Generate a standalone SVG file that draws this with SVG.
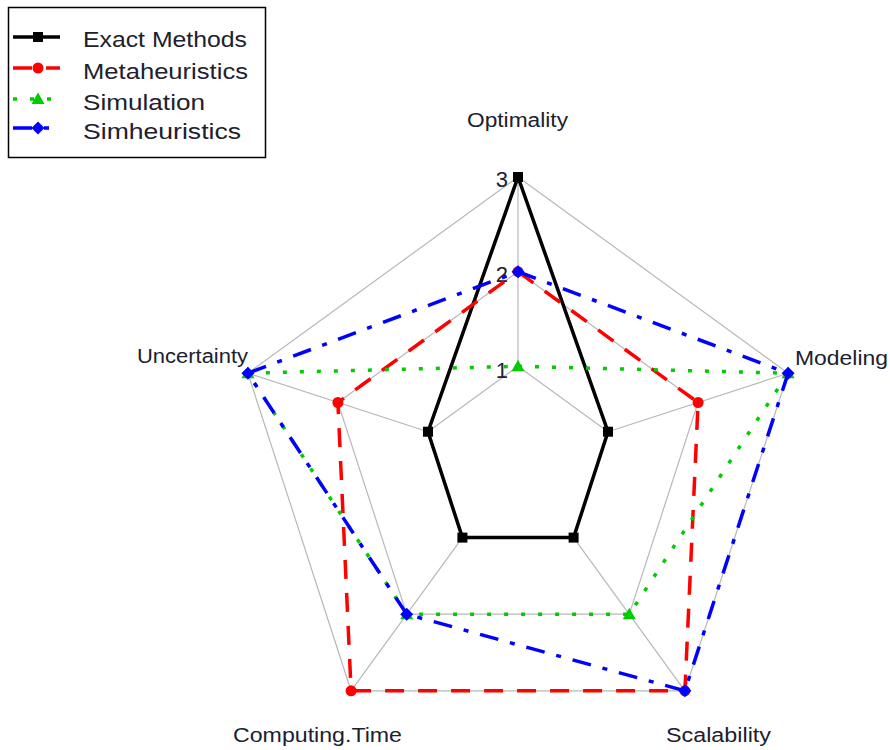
<svg xmlns="http://www.w3.org/2000/svg" width="890" height="750" viewBox="0 0 890 750">
  <defs>
    <style>
      .grid { fill: none; stroke: #b8b8b8; stroke-width: 1.2; }
      .lab { font-family: "Liberation Sans", Arial, sans-serif; fill: #20202e; }
      .axis { font-size: 20px; }
      .tick { font-size: 22px; text-anchor: end; }
      .leg { font-size: 22px; }
      .s { fill: none; stroke-width: 3.5; stroke-linejoin: miter; }
      .exact { stroke: #000000; }
      .meta { stroke: #ff0000; stroke-dasharray: 19 14; }
      .sim { stroke: #00cc00; stroke-dasharray: 4 13; }
      .simh { stroke: #0000ff; stroke-dasharray: 19 12 5 12; }
    </style>
    <rect id="sq" x="-5" y="-5" width="10" height="10" fill="#000000"/>
    <circle id="ci" r="5.5" fill="#ff0000"/>
    <polygon id="tr" points="0,-6.5 6.5,5 -6.5,5" fill="#00cc00"/>
    <polygon id="di" points="0,-6.5 6.5,0 0,6.5 -6.5,0" fill="#0000ff"/>
  </defs>
  <rect width="890" height="750" fill="#ffffff"/>

  <!-- radar grid: three level pentagons and the five spokes -->
  <g id="grid">
    <polygon class="grid" points="518,366.3 608.0,431.7 573.6,537.6 462.4,537.6 428.0,431.7"/>
    <polygon class="grid" points="518,271.7 698.1,402.5 629.3,614.2 406.7,614.2 337.9,402.5"/>
    <polygon class="grid" points="518,177 788.1,373.2 684.9,690.8 351.1,690.8 247.9,373.2"/>
    <line class="grid" x1="518" y1="366.3" x2="518" y2="177"/>
    <line class="grid" x1="608.0" y1="431.7" x2="788.1" y2="373.2"/>
    <line class="grid" x1="573.6" y1="537.6" x2="684.9" y2="690.8"/>
    <line class="grid" x1="462.4" y1="537.6" x2="351.1" y2="690.8"/>
    <line class="grid" x1="428.0" y1="431.7" x2="247.9" y2="373.2"/>
  </g>

  <!-- tick values on the top spoke -->
  <g id="ticks" class="lab tick">
    <text x="508" y="187">3</text>
    <text x="508" y="282">2</text>
    <text x="508" y="378">1</text>
  </g>

  <!-- axis names -->
  <g id="axis-labels" class="lab axis">
    <text x="467" y="127" textLength="101" lengthAdjust="spacingAndGlyphs">Optimality</text>
    <text x="795" y="365" textLength="93" lengthAdjust="spacingAndGlyphs">Modeling</text>
    <text x="137" y="363" textLength="111" lengthAdjust="spacingAndGlyphs">Uncertainty</text>
    <text x="233" y="742" textLength="169" lengthAdjust="spacingAndGlyphs">Computing.Time</text>
    <text x="666" y="742" textLength="105" lengthAdjust="spacingAndGlyphs">Scalability</text>
  </g>

  <!-- data series -->
  <g id="connectors">
    <g id="series-exact">
      <polygon class="s exact" points="518,177 608.0,431.7 573.6,537.6 462.4,537.6 428.0,431.7"/>
      <use href="#sq" x="518" y="177"/>
      <use href="#sq" x="608.0" y="431.7"/>
      <use href="#sq" x="573.6" y="537.6"/>
      <use href="#sq" x="462.4" y="537.6"/>
      <use href="#sq" x="428.0" y="431.7"/>
    </g>
    <g id="series-meta">
      <polygon class="s meta" points="518,271.7 698.1,402.5 684.9,690.8 351.1,690.8 337.9,402.5"/>
      <use href="#ci" x="518" y="271.7"/>
      <use href="#ci" x="698.1" y="402.5"/>
      <use href="#ci" x="684.9" y="690.8"/>
      <use href="#ci" x="351.1" y="690.8"/>
      <use href="#ci" x="337.9" y="402.5"/>
    </g>
    <g id="series-sim">
      <polygon class="s sim" points="518,366.3 788.1,373.2 629.3,614.2 406.7,614.2 247.9,373.2"/>
      <use href="#tr" x="518" y="366.3"/>
      <use href="#tr" x="788.1" y="373.2"/>
      <use href="#tr" x="629.3" y="614.2"/>
      <use href="#tr" x="406.7" y="614.2"/>
      <use href="#tr" x="247.9" y="373.2"/>
    </g>
    <g id="series-simh">
      <polygon class="s simh" points="518,271.7 788.1,373.2 684.9,690.8 406.7,614.2 247.9,373.2"/>
      <use href="#di" x="518" y="271.7"/>
      <use href="#di" x="788.1" y="373.2"/>
      <use href="#di" x="684.9" y="690.8"/>
      <use href="#di" x="406.7" y="614.2"/>
      <use href="#di" x="247.9" y="373.2"/>
    </g>
  </g>

  <!-- legend -->
  <g id="legend">
    <rect x="8.5" y="7.5" width="257" height="150" fill="#ffffff" stroke="#000000" stroke-width="1.5"/>
    <line class="s exact" x1="13" y1="37" x2="60" y2="37"/>
    <use href="#sq" x="38" y="37"/>
    <line class="s meta" x1="13" y1="68" x2="60" y2="68"/>
    <use href="#ci" x="38" y="68"/>
    <line class="s sim" x1="13" y1="99" x2="60" y2="99"/>
    <use href="#tr" x="38" y="99"/>
    <line class="s simh" x1="13" y1="128" x2="60" y2="128"/>
    <use href="#di" x="38" y="128"/>
    <g class="lab leg">
      <text x="83" y="47" textLength="164" lengthAdjust="spacingAndGlyphs">Exact Methods</text>
      <text x="83" y="79" textLength="165" lengthAdjust="spacingAndGlyphs">Metaheuristics</text>
      <text x="83" y="110" textLength="122" lengthAdjust="spacingAndGlyphs">Simulation</text>
      <text x="83" y="139" textLength="158" lengthAdjust="spacingAndGlyphs">Simheuristics</text>
    </g>
  </g>
</svg>
